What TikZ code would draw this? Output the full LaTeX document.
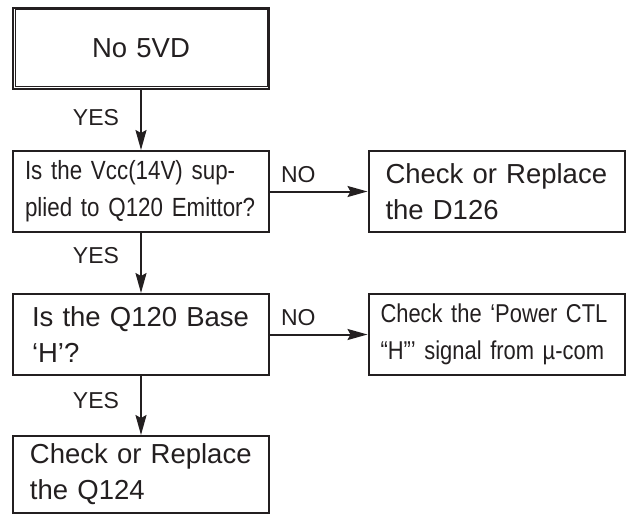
\documentclass[tikz,border=0pt]{standalone}
\usepackage{fontspec}
\setmainfont{Liberation Sans}
\newfontfamily\narrowfont[FakeStretch=0.85]{Liberation Sans}
\usetikzlibrary{arrows.meta}
\definecolor{ink}{HTML}{231F20}
\tikzset{
  box/.style={draw=ink, line width=2pt, minimum width=256pt, minimum height=81pt,
    inner xsep=17pt, text width=222pt, align=left, text=ink,
    font=\fontsize{27.5}{36}\selectfont},
  narrow/.style={inner xsep=12pt, text width=232pt, font=\narrowfont\fontsize{26.3}{37}\selectfont},
  arr/.style={draw=ink, line width=2pt, -{Stealth[length=20pt,width=11pt,inset=3pt]}},
  tag/.style={text=ink, inner sep=1pt, font=\fontsize{23}{23}\selectfont}
}
\begin{document}
\begin{tikzpicture}[x=1pt, y=-1pt]
   \useasboundingbox (0,0) rectangle (630,520);
   \node[box, align=center] (nov) at (141,48) {No 5VD};
   \draw[ink, line width=.8pt] ([shift={(3pt,-3pt)}]nov.north west) rectangle ([shift={(-3pt,3pt)}]nov.south east);
   \node[box, narrow] (vcc) at (141,191.5) {Is the Vcc(14V) sup-\\plied to Q120 Emittor?};
   \node[box] (d126) at (496.5,191.5) {Check or Replace\\the D126};
   \node[box, inner xsep=19pt, text width=218pt] (base) at (141,334.5) {Is the Q120 Base\\‘H’?};
   \node[box, narrow, font=\narrowfont\fontsize{25.8}{37}\selectfont] (ctl) at (496.5,334.5) {Check the ‘Power CTL\\“H”’ signal from µ-com};
   \node[box, minimum height=77pt] (q124) at (141,474.5) {Check or Replace\\the Q124};
   \draw[arr] (nov) -- (vcc) node[tag, pos=.46, left=20pt] {YES};
   \draw[arr] (vcc) -- (base) node[tag, pos=.37, left=20pt] {YES};
   \draw[arr] (base) -- (q124) node[tag, pos=.42, left=20pt] {YES};
   \draw[arr] (vcc) -- (d126) node[tag, pos=.29, above=7pt] {NO};
   \draw[arr] (base) -- (ctl) node[tag, pos=.29, above=7pt] {NO};
\end{tikzpicture}
\end{document}
